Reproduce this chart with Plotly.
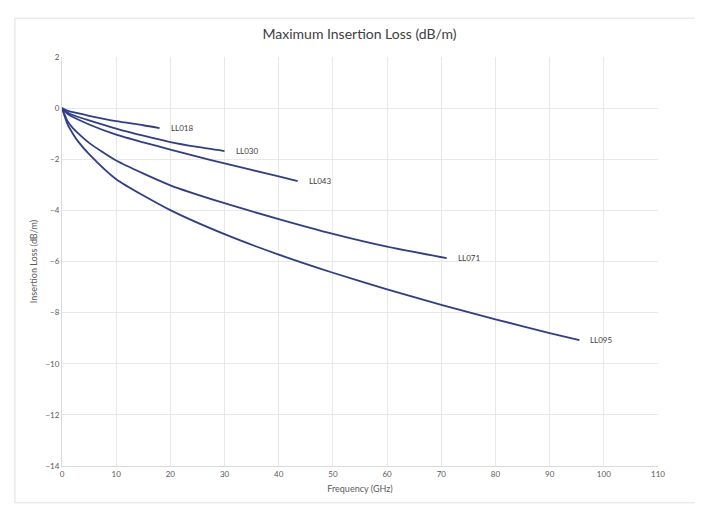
import plotly.graph_objects as go

# values (frequency in GHz, loss in dB/m)
LL018_F = [0, 1, 2, 5, 10, 15, 18]
LL018_IL = [0, -0.10, -0.16, -0.30, -0.51, -0.67, -0.78]

LL030_F = [0, 1, 2, 5, 10, 15, 20, 25, 30]
LL030_IL = [0, -0.17, -0.27, -0.48, -0.80, -1.08, -1.33, -1.52, -1.68]

LL043_F = [0, 1, 2, 5, 10, 15, 20, 25, 30, 35, 40, 43.5]
LL043_IL = [0, -0.22, -0.35, -0.64, -1.04, -1.34, -1.62, -1.90, -2.16, -2.42, -2.67, -2.86]

LL071_F = [0, 1, 2, 3, 5, 10, 20, 30, 40, 50, 60, 71]
LL071_IL = [0, -0.50, -0.78, -0.99, -1.36, -2.05, -3.02, -3.72, -4.34, -4.92, -5.42, -5.87]

LL095_F = [0, 1, 2, 3, 5, 10, 20, 30, 40, 50, 60, 70, 80, 90, 95.5]
LL095_IL = [0, -0.62, -1.00, -1.31, -1.80, -2.78, -3.99, -4.93, -5.73, -6.44, -7.09,
            -7.70, -8.26, -8.80, -9.08]

SERIES = [
    ("LL018", LL018_F, LL018_IL),
    ("LL030", LL030_F, LL030_IL),
    ("LL043", LL043_F, LL043_IL),
    ("LL071", LL071_F, LL071_IL),
    ("LL095", LL095_F, LL095_IL),
]

LINE_COLOR = "#2f3d8c"
FONT = "Lato, 'Open Sans', sans-serif"

fig = go.Figure()
for name, f, il in SERIES:
    fig.add_trace(go.Scatter(
        x=f, y=il, name=name, mode="lines",
        line=dict(color=LINE_COLOR, width=1.8, shape="spline", smoothing=0.6),
    ))
    fig.add_annotation(
        x=f[-1], y=il[-1], text=name, showarrow=False,
        xanchor="left", xshift=9, font=dict(size=8, color="#404040"),
    )

fig.update_xaxes(
    range=[0, 110], dtick=10, showgrid=True, gridcolor="#e8e8e8",
    showline=True, linecolor="#d9d9d9", zeroline=False, ticks="",
    tickfont=dict(size=8, color="#595959"),
    title=dict(text="Frequency (GHz)", font=dict(size=9, color="#595959"), standoff=8),
)
fig.update_yaxes(
    range=[-14, 2], dtick=2, showgrid=True, gridcolor="#e8e8e8",
    showline=True, linecolor="#d9d9d9", zeroline=False, ticks="",
    tickfont=dict(size=8, color="#595959"),
    title=dict(text="Insertion Loss (dB/m)", font=dict(size=9, color="#595959"), standoff=6),
)
fig.update_layout(
    width=703, height=514,
    margin=dict(l=54, r=53, t=49, b=56),
    title=dict(text="Maximum Insertion Loss (dB/m)", x=0.5, xanchor="center",
               y=0.95, yanchor="middle", font=dict(size=14, color="#404040")),
    font=dict(family=FONT),
    showlegend=False,
    paper_bgcolor="white",
    plot_bgcolor="white",
    shapes=[dict(type="rect", xref="paper", yref="paper",
                 x0=-0.079, x1=1.075, y0=-0.09, y1=1.095,
                 line=dict(color="#e0e0e0", width=1), layer="below")],
)

fig.write_html("out.html")
